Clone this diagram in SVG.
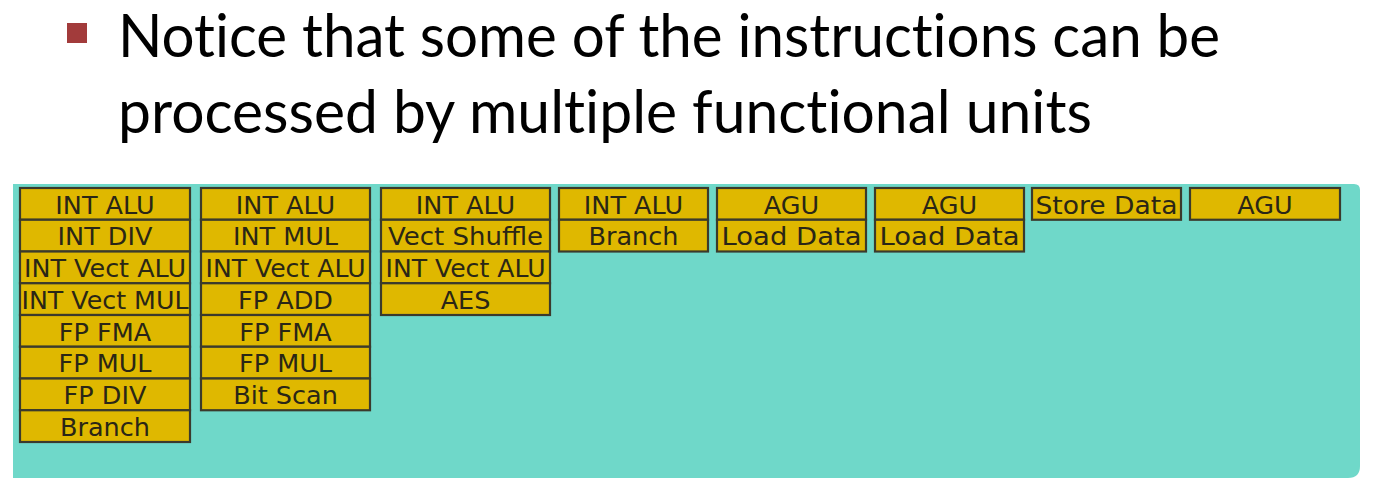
<svg xmlns="http://www.w3.org/2000/svg" width="1380" height="499" viewBox="0 0 1380 499">
  <style>
    .title { font-family: Lato, "Open Sans", "Liberation Sans", sans-serif; font-size: 60px; fill: #000; font-variant-ligatures: none; }
    .unit rect { fill: #dfb800; stroke: #3b3a2c; stroke-width: 2.2; }
    .unit text { font-family: "DejaVu Sans", "Liberation Sans", sans-serif; font-size: 25.5px; fill: #2a2616; text-anchor: middle; }
  </style>

  <rect width="1380" height="499" fill="#ffffff"/>

  <!-- bullet heading -->
  <rect x="67" y="23" width="20" height="20" fill="#a23b3b"/>
  <text class="title" x="118" y="57" textLength="1102" lengthAdjust="spacingAndGlyphs">Notice that some of the instructions can be</text>
  <text class="title" x="118" y="133" textLength="974" lengthAdjust="spacingAndGlyphs">processed by multiple functional units</text>

  <!-- execution port panel -->
  <path d="M13 184 H1354 Q1360 184 1360 190 V466 Q1360 478 1348 478 H13 Z" fill="#6fd8c9"/>

  <!-- port 0 -->
  <g id="port0" class="unit">
    <rect x="20" y="188" width="170" height="31.75"/><text x="105" y="213.5">INT ALU</text>
    <rect x="20" y="219.75" width="170" height="31.75"/><text x="105" y="245.25">INT DIV</text>
    <rect x="20" y="251.5" width="170" height="31.75"/><text x="105" y="277" textLength="162" lengthAdjust="spacingAndGlyphs">INT Vect ALU</text>
    <rect x="20" y="283.25" width="170" height="31.75"/><text x="105" y="308.75" textLength="167" lengthAdjust="spacingAndGlyphs">INT Vect MUL</text>
    <rect x="20" y="315" width="170" height="31.75"/><text x="105" y="340.5">FP FMA</text>
    <rect x="20" y="346.75" width="170" height="31.75"/><text x="105" y="372.25">FP MUL</text>
    <rect x="20" y="378.5" width="170" height="31.75"/><text x="105" y="404">FP DIV</text>
    <rect x="20" y="410.25" width="170" height="31.75"/><text x="105" y="435.75">Branch</text>
  </g>

  <!-- port 1 -->
  <g id="port1" class="unit">
    <rect x="201" y="188" width="169" height="31.75"/><text x="285.5" y="213.5">INT ALU</text>
    <rect x="201" y="219.75" width="169" height="31.75"/><text x="285.5" y="245.25">INT MUL</text>
    <rect x="201" y="251.5" width="169" height="31.75"/><text x="285.5" y="277" textLength="160" lengthAdjust="spacingAndGlyphs">INT Vect ALU</text>
    <rect x="201" y="283.25" width="169" height="31.75"/><text x="285.5" y="308.75">FP ADD</text>
    <rect x="201" y="315" width="169" height="31.75"/><text x="285.5" y="340.5">FP FMA</text>
    <rect x="201" y="346.75" width="169" height="31.75"/><text x="285.5" y="372.25">FP MUL</text>
    <rect x="201" y="378.5" width="169" height="31.75"/><text x="285.5" y="404">Bit Scan</text>
  </g>

  <!-- port 5 -->
  <g id="port5" class="unit">
    <rect x="381" y="188" width="169" height="31.75"/><text x="465.5" y="213.5">INT ALU</text>
    <rect x="381" y="219.75" width="169" height="31.75"/><text x="465.5" y="245.25" textLength="155" lengthAdjust="spacingAndGlyphs">Vect Shuffle</text>
    <rect x="381" y="251.5" width="169" height="31.75"/><text x="465.5" y="277" textLength="160" lengthAdjust="spacingAndGlyphs">INT Vect ALU</text>
    <rect x="381" y="283.25" width="169" height="31.75"/><text x="465.5" y="308.75">AES</text>
  </g>

  <!-- port 6 -->
  <g id="port6" class="unit">
    <rect x="559" y="188" width="149" height="31.75"/><text x="633.5" y="213.5">INT ALU</text>
    <rect x="559" y="219.75" width="149" height="31.75"/><text x="633.5" y="245.25">Branch</text>
  </g>

  <!-- port 2 -->
  <g id="port2" class="unit">
    <rect x="717" y="188" width="149" height="31.75"/><text x="791.5" y="213.5">AGU</text>
    <rect x="717" y="219.75" width="149" height="31.75"/><text x="791.5" y="245.25" textLength="140" lengthAdjust="spacingAndGlyphs">Load Data</text>
  </g>

  <!-- port 3 -->
  <g id="port3" class="unit">
    <rect x="875" y="188" width="149" height="31.75"/><text x="949.5" y="213.5">AGU</text>
    <rect x="875" y="219.75" width="149" height="31.75"/><text x="949.5" y="245.25" textLength="140" lengthAdjust="spacingAndGlyphs">Load Data</text>
  </g>

  <!-- port 4 -->
  <g id="port4" class="unit">
    <rect x="1032" y="188" width="149" height="31.75"/><text x="1106.5" y="213.5" textLength="142" lengthAdjust="spacingAndGlyphs">Store Data</text>
  </g>

  <!-- port 7 -->
  <g id="port7" class="unit">
    <rect x="1190" y="188" width="150" height="31.75"/><text x="1265" y="213.5">AGU</text>
  </g>

  <g id="connectors"/>
</svg>
